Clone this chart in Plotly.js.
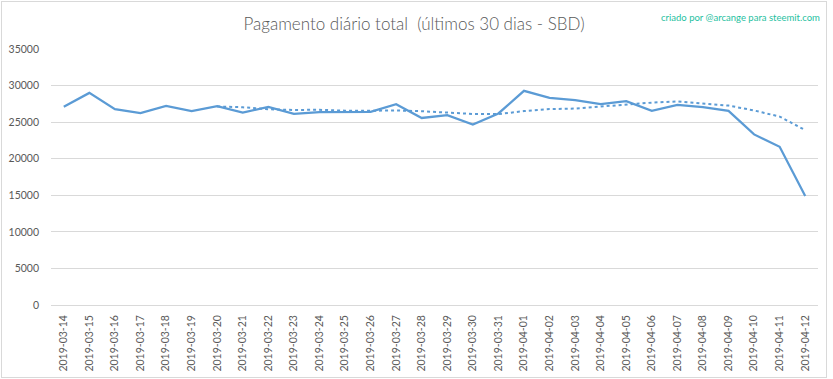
<!DOCTYPE html>
<html>
<head>
<meta charset="utf-8">
<script src="https://cdn.plot.ly/plotly-3.0.1.min.js"></script>
<style>
html,body{margin:0;padding:0;background:#fff;}
#wrap{position:relative;width:833px;height:379px;}
#chart{width:833px;height:379px;}
#border{position:absolute;left:1px;top:1px;width:824px;height:375px;border:1px solid #d9d9d9;pointer-events:none;}
</style>
</head>
<body>
<div id="wrap"><div id="chart"></div><div id="border"></div></div>
<script>
const dates = ["2019-03-14","2019-03-15","2019-03-16","2019-03-17","2019-03-18","2019-03-19","2019-03-20","2019-03-21","2019-03-22","2019-03-23","2019-03-24","2019-03-25","2019-03-26","2019-03-27","2019-03-28","2019-03-29","2019-03-30","2019-03-31","2019-04-01","2019-04-02","2019-04-03","2019-04-04","2019-04-05","2019-04-06","2019-04-07","2019-04-08","2019-04-09","2019-04-10","2019-04-11","2019-04-12"];
const payout = [27090,29000,26780,26230,27230,26500,27190,26300,27090,26140,26370,26410,26410,27460,25570,25960,24680,26190,29280,28320,28000,27480,27870,26540,27370,27050,26540,23320,21630,14890];
const trendDates = dates.slice(6);
const trend = [27146,27033,26760,26669,26689,26571,26559,26597,26493,26331,26123,26097,26507,26780,26857,27130,27403,27669,27837,27519,27264,26596,25760,23906];
const yTicks = [0,5000,10000,15000,20000,25000,30000,35000];

const lineColor = "#5b9bd5";
const textColor = "#595959";
const font = "Lato, 'Liberation Sans', sans-serif";

const data = [
  {x: dates, y: payout, type: "scatter", mode: "lines", line: {color: lineColor, width: 2.25}, hoverinfo: "x+y"},
  {x: trendDates, y: trend, type: "scatter", mode: "lines", line: {color: lineColor, width: 2, dash: "dot"}, hoverinfo: "x+y"}
];

const layout = {
  width: 833, height: 379,
  margin: {l: 51, r: 15, t: 49, b: 74},
  paper_bgcolor: "#fff", plot_bgcolor: "#fff",
  showlegend: false,
  font: {family: font, color: textColor, size: 11},
  title: {text: "Pagamento diário total  (últimos 30 dias - SBD)", x: 0.497, xanchor: "center", y: 0.937, yanchor: "middle", font: {family: font, size: 17, weight: 300, color: textColor}},
  xaxis: {
    type: "category", range: [-0.5, 29.5], tickangle: -90,
    showgrid: false, showline: false, zeroline: false,
    ticks: "", ticklabelstandoff: 7,
    tickfont: {family: font, size: 10.5, color: textColor}
  },
  yaxis: {
    range: [0, 35000], tickvals: yTicks, ticktext: yTicks.map(String),
    showgrid: true, gridcolor: "#d9d9d9", gridwidth: 1,
    zeroline: true, zerolinecolor: "#d9d9d9", zerolinewidth: 1,
    showline: false, ticks: "", ticklabelstandoff: 11,
    tickfont: {family: font, size: 10.5, color: textColor}
  },
  annotations: [{
    text: "criado por @arcange para steemit.com", xref: "paper", yref: "paper",
    x: 1.005, xanchor: "right", y: 1.125, yanchor: "middle", showarrow: false,
    font: {family: font, size: 9.5, color: "#1fbf9f"}
  }]
};

Plotly.newPlot("chart", data, layout, {displayModeBar: false, staticPlot: true});
</script>
</body>
</html>
